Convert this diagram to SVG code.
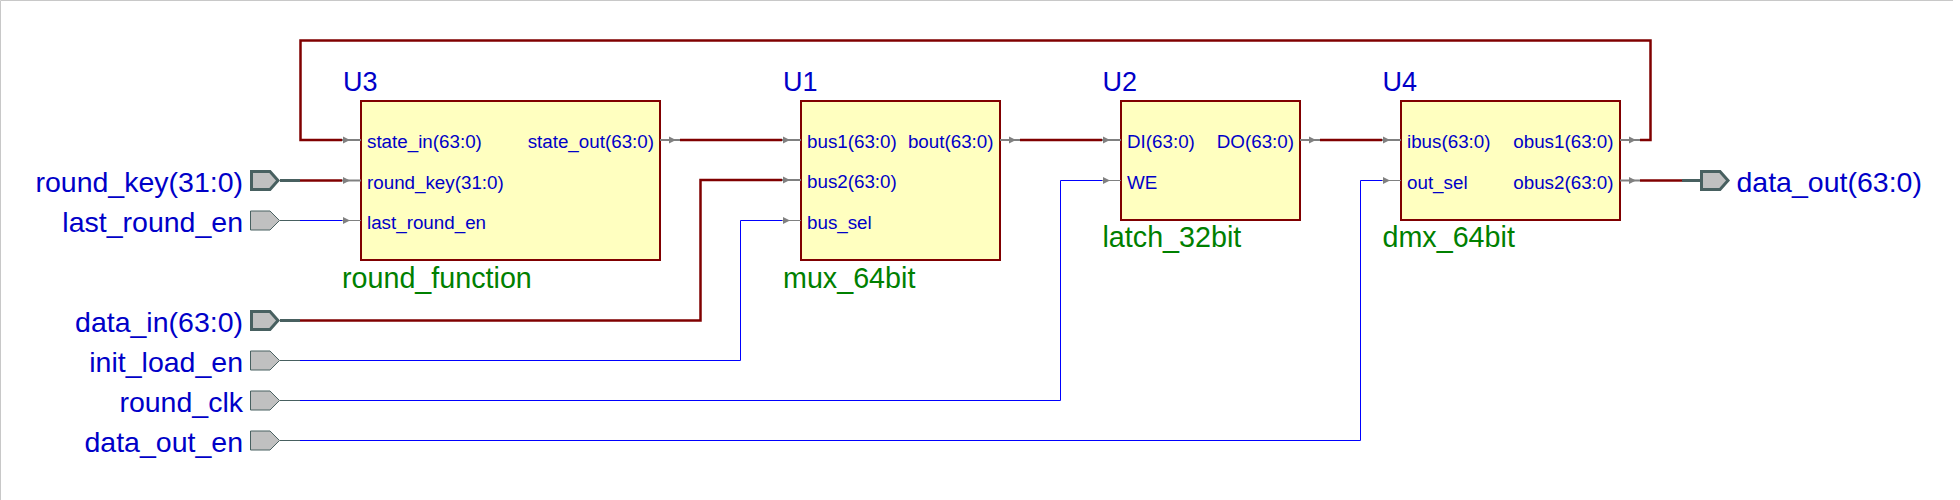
<svg xmlns="http://www.w3.org/2000/svg" width="1960" height="500" viewBox="0 0 1960 500">
<style>
.frame{stroke:#c8c8c8;stroke-width:1;fill:none}
.box{fill:#ffffc0;stroke:#800000;stroke-width:2}
.bus{fill:none;stroke:#800000;stroke-width:2.5}
.sig{fill:none;stroke:#0000ff;stroke-width:1}
.pinb{stroke:#808080;stroke-width:2}
.pins{stroke:#808080;stroke-width:1}
.arr{fill:#808080}
.portb{fill:#c0c0c0;stroke:#486060;stroke-width:3}
.ports{fill:#c0c0c0;stroke:#486060;stroke-width:1}
.stubb{stroke:#486060;stroke-width:3}
.stubs{stroke:#486060;stroke-width:1}
text{font-family:"Liberation Sans",Arial,sans-serif}
.pl{font-size:28.5px;fill:#0000c8}
.inst{font-size:27px;fill:#0000c8}
.ent{font-size:28.7px;fill:#008000}
.pn{font-size:18.8px;fill:#0000c8}
.r{text-anchor:end}
</style>
<defs>
<path id="arw" d="M0,-3.5 L7,0 L0,3.5 Z"/>
<path id="pb" d="M1.5,-9 H20 L28,0 L20,9 H1.5 Z"/>
<path id="ps" d="M0.5,-9.5 H20 L29.5,0 L20,9.5 H0.5 Z"/>
</defs>
<rect width="1960" height="500" fill="#ffffff"/>
<path class="frame" d="M0.5,500 V0.5 H1953"/>

<g id="connectors">
<path class="bus" d="M1640,140 H1650.5 V40.5 H300.5 V140 H342"/>
<path class="bus" d="M680,140 H782"/>
<path class="bus" d="M300,180.5 H342"/>
<path class="sig" d="M300,220.5 H342"/>
<path class="bus" d="M300,320.5 H700.5 V180 H782"/>
<path class="sig" d="M300,360.5 H740.5 V220.5 H782"/>
<path class="sig" d="M300,400.5 H1060.5 V180.5 H1102"/>
<path class="sig" d="M300,440.5 H1360.5 V180.5 H1382"/>
<path class="bus" d="M1020,140 H1102"/>
<path class="bus" d="M1320,140 H1382"/>
<path class="bus" d="M1640,180.5 H1682"/>
</g>

<g id="port_round_key">
<line class="stubb" x1="280" y1="180.5" x2="300" y2="180.5"/>
<use href="#pb" class="portb" x="250" y="180.5"/>
<text class="pl r" x="243" y="191.5">round_key(31:0)</text>
</g>
<g id="port_last_round_en">
<line class="stubs" x1="280" y1="220.5" x2="300" y2="220.5"/>
<use href="#ps" class="ports" x="250" y="220.5"/>
<text class="pl r" x="243" y="231.5">last_round_en</text>
</g>
<g id="port_data_in">
<line class="stubb" x1="280" y1="320.5" x2="300" y2="320.5"/>
<use href="#pb" class="portb" x="250" y="320.5"/>
<text class="pl r" x="243" y="331.5">data_in(63:0)</text>
</g>
<g id="port_init_load_en">
<line class="stubs" x1="280" y1="360.5" x2="300" y2="360.5"/>
<use href="#ps" class="ports" x="250" y="360.5"/>
<text class="pl r" x="243" y="371.5">init_load_en</text>
</g>
<g id="port_round_clk">
<line class="stubs" x1="280" y1="400.5" x2="300" y2="400.5"/>
<use href="#ps" class="ports" x="250" y="400.5"/>
<text class="pl r" x="243" y="411.5">round_clk</text>
</g>
<g id="port_data_out_en">
<line class="stubs" x1="280" y1="440.5" x2="300" y2="440.5"/>
<use href="#ps" class="ports" x="250" y="440.5"/>
<text class="pl r" x="243" y="451.5">data_out_en</text>
</g>
<g id="port_data_out">
<line class="stubb" x1="1682" y1="180.5" x2="1700" y2="180.5"/>
<use href="#pb" class="portb" x="1700" y="180.5"/>
<text class="pl" x="1736.5" y="191.5">data_out(63:0)</text>
</g>

<g id="U3">
<rect class="box" x="361" y="101" width="299" height="159"/>
<line class="pinb" x1="342" y1="140" x2="361" y2="140"/><use href="#arw" class="arr" x="343" y="140"/>
<line class="pinb" x1="342" y1="180.5" x2="361" y2="180.5"/><use href="#arw" class="arr" x="343" y="180.5"/>
<line class="pins" x1="342" y1="220.5" x2="361" y2="220.5"/><use href="#arw" class="arr" x="343" y="220.5"/>
<line class="pinb" x1="660" y1="140" x2="680" y2="140"/><use href="#arw" class="arr" x="669" y="140"/>
<text class="inst" x="343" y="91">U3</text>
<text class="pn" x="367" y="148.3">state_in(63:0)</text>
<text class="pn" x="367" y="188.5">round_key(31:0)</text>
<text class="pn" x="367" y="228.5">last_round_en</text>
<text class="pn r" x="654" y="148.3">state_out(63:0)</text>
<text class="ent" x="342" y="287.7">round_function</text>
</g>

<g id="U1">
<rect class="box" x="801" y="101" width="199" height="159"/>
<line class="pinb" x1="782" y1="140" x2="801" y2="140"/><use href="#arw" class="arr" x="783" y="140"/>
<line class="pinb" x1="782" y1="180" x2="801" y2="180"/><use href="#arw" class="arr" x="783" y="180"/>
<line class="pins" x1="782" y1="220.5" x2="801" y2="220.5"/><use href="#arw" class="arr" x="783" y="220.5"/>
<line class="pinb" x1="1000" y1="140" x2="1020" y2="140"/><use href="#arw" class="arr" x="1009" y="140"/>
<text class="inst" x="783" y="91">U1</text>
<text class="pn" x="807" y="148.3">bus1(63:0)</text>
<text class="pn" x="807" y="188.3">bus2(63:0)</text>
<text class="pn" x="807" y="228.5">bus_sel</text>
<text class="pn r" x="993.5" y="148.3">bout(63:0)</text>
<text class="ent" x="783" y="287.7">mux_64bit</text>
</g>

<g id="U2">
<rect class="box" x="1121" y="101" width="179" height="119"/>
<line class="pinb" x1="1102" y1="140" x2="1121" y2="140"/><use href="#arw" class="arr" x="1103" y="140"/>
<line class="pins" x1="1102" y1="180.5" x2="1121" y2="180.5"/><use href="#arw" class="arr" x="1103" y="180.5"/>
<line class="pinb" x1="1300" y1="140" x2="1320" y2="140"/><use href="#arw" class="arr" x="1309" y="140"/>
<text class="inst" x="1102.5" y="91">U2</text>
<text class="pn" x="1127" y="148.3">DI(63:0)</text>
<text class="pn" x="1127" y="188.5">WE</text>
<text class="pn r" x="1294" y="148.3">DO(63:0)</text>
<text class="ent" x="1102.5" y="247.3">latch_32bit</text>
</g>

<g id="U4">
<rect class="box" x="1401" y="101" width="219" height="119"/>
<line class="pinb" x1="1382" y1="140" x2="1401" y2="140"/><use href="#arw" class="arr" x="1383" y="140"/>
<line class="pins" x1="1382" y1="180.5" x2="1401" y2="180.5"/><use href="#arw" class="arr" x="1383" y="180.5"/>
<line class="pinb" x1="1620" y1="140" x2="1640" y2="140"/><use href="#arw" class="arr" x="1629" y="140"/>
<line class="pinb" x1="1620" y1="180.5" x2="1640" y2="180.5"/><use href="#arw" class="arr" x="1629" y="180.5"/>
<text class="inst" x="1382.5" y="91">U4</text>
<text class="pn" x="1407" y="148.3">ibus(63:0)</text>
<text class="pn" x="1407" y="188.5">out_sel</text>
<text class="pn r" x="1613.5" y="148.3">obus1(63:0)</text>
<text class="pn r" x="1613.5" y="188.5">obus2(63:0)</text>
<text class="ent" x="1382.5" y="247.3">dmx_64bit</text>
</g>
</svg>
